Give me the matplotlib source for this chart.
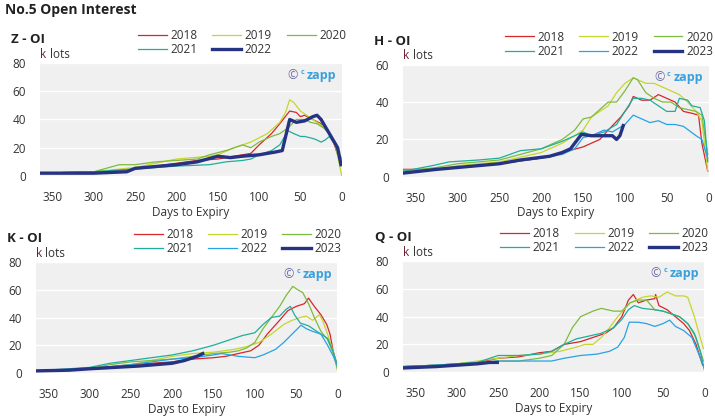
import matplotlib
matplotlib.use("Agg")
import matplotlib.pyplot as plt

plt.rcParams['font.family'] = ['Open Sans', 'DejaVu Sans']

# year colours
colors = {
    '2018': '#d7262b',
    '2019': '#c5d62c',
    '2020': '#7dbb3f',
    '2021': '#1fae9c',
    '2022': '#27a2e4',
    '2023': '#263382',
}
navy = '#263382'

# ---- Z - OI (2022 is the current contract) ----
z_days = {
    '2018': [365, 300, 250, 200, 175, 150, 130, 110, 100, 85, 75, 63, 55, 50, 45, 35, 25, 15, 10, 5, 0],
    '2019': [365, 300, 250, 200, 160, 150, 130, 110, 90, 75, 68, 63, 58, 50, 45, 35, 30, 22, 15, 7, 0],
    '2020': [365, 300, 269, 250, 225, 200, 175, 160, 140, 120, 110, 100, 85, 75, 65, 55, 45, 38, 30, 22, 15, 8, 0],
    '2021': [365, 300, 250, 200, 160, 140, 120, 110, 100, 85, 75, 65, 58, 50, 45, 38, 32, 25, 20, 15, 8, 0],
    '2022': [365, 300, 260, 250, 200, 175, 150, 135, 120, 100, 80, 72, 63, 55, 45, 35, 30, 25, 20, 13, 5, 1],
}
z_vals = {
    '2018': [2, 3, 5, 9, 11, 12, 14, 16, 22, 30, 37, 46, 45, 42, 43, 40, 37, 30, 24, 15, 8],
    '2019': [2, 3, 6, 12, 14, 15, 20, 24, 30, 38, 45, 54, 52, 46, 44, 40, 38, 35, 30, 20, 0],
    '2020': [2, 3, 8, 8, 10, 11, 12, 15, 18, 22, 20, 24, 28, 30, 34, 40, 40, 38, 37, 34, 30, 22, 12],
    '2021': [2, 3, 5, 7, 8, 10, 11, 12, 15, 18, 22, 32, 30, 28, 28, 27, 26, 24, 25.5, 28, 22, 8],
    '2022': [2, 2, 3, 5.4, 8, 10, 14, 13, 14, 15, 17, 18, 40, 38, 39, 42, 43, 40, 35, 28, 20, 8],
}

# ---- H - OI ----
h_days = {
    '2018': [365, 330, 300, 250, 200, 175, 150, 140, 130, 120, 105, 95, 90, 80, 70, 60, 50, 40, 30, 20, 12, 8, 1],
    '2019': [365, 325, 300, 250, 200, 175, 160, 150, 140, 120, 110, 100, 90, 85, 75, 65, 55, 45, 35, 25, 15, 8, 1],
    '2020': [365, 325, 300, 250, 200, 175, 160, 150, 140, 130, 120, 110, 100, 90, 85, 75, 65, 55, 45, 35, 25, 15, 8, 1],
    '2021': [365, 330, 310, 275, 250, 225, 200, 175, 160, 150, 140, 125, 110, 100, 90, 80, 70, 60, 50, 40, 35, 25, 20, 10, 5, 1],
    '2022': [365, 300, 250, 200, 175, 160, 150, 140, 125, 115, 100, 90, 80, 70, 60, 50, 40, 30, 15, 8, 1],
    '2023': [365, 325, 300, 250, 225, 190, 175, 165, 160, 152, 140, 125, 115, 110, 106, 102],
}
h_vals = {
    '2018': [4, 4, 5, 7, 10, 13, 16, 18, 20, 25, 32, 38, 43, 41, 41, 44, 42, 40, 35, 34, 33, 18, 3],
    '2019': [3.5, 4, 6, 8, 13, 18, 22, 25, 32, 38, 45, 50, 53, 52, 50, 50, 48, 46, 44, 40, 35, 30, 3],
    '2020': [3, 5, 7, 9, 15, 20, 25, 31, 32, 36, 40, 40, 46, 53, 52, 45, 42, 40, 40, 37, 36, 35, 33, 12],
    '2021': [3, 6, 8, 9, 10, 14, 15, 19, 22, 24, 22, 24, 28, 35, 42, 42, 41, 38, 35, 35, 42, 41, 38, 37, 30, 8],
    '2022': [2, 5, 7, 10, 12, 15, 21, 22, 25, 24, 28, 33, 31, 29, 30, 28, 28, 27, 22, 20, 10],
    '2023': [2, 4, 5, 7, 9, 11, 13, 15, 18, 22.7, 22, 22, 22, 20, 22, 27.4],
}

# ---- K - OI ----
k_days = {
    '2018': [365, 300, 250, 200, 175, 150, 135, 120, 105, 95, 85, 70, 60, 50, 40, 35, 28, 20, 13, 9, 5, 0],
    '2019': [365, 300, 250, 225, 200, 175, 150, 125, 110, 95, 80, 65, 55, 45, 38, 30, 22, 18, 12, 5, 0],
    '2020': [365, 325, 300, 275, 250, 200, 175, 150, 130, 120, 110, 100, 90, 80, 70, 62, 54, 48, 42, 35, 28, 20, 12, 5, 0],
    '2021': [365, 300, 275, 250, 225, 200, 175, 150, 130, 115, 100, 90, 80, 70, 62, 57, 52, 45, 35, 25, 20, 12, 5, 0],
    '2022': [365, 300, 250, 225, 200, 175, 150, 140, 120, 100, 90, 75, 65, 55, 44, 38, 30, 20, 12, 5, 0],
    '2023': [365, 325, 300, 270, 240, 220, 200, 185, 170, 163],
}
k_vals = {
    '2018': [1.5, 3, 6, 8, 10, 11, 12, 14, 16, 20, 28, 38, 45, 48, 50, 54, 48, 42, 35, 28, 15, 5],
    '2019': [1.5, 3, 6, 9, 12, 14, 15, 17, 19, 22, 28, 35, 38, 40, 41, 38, 42, 38, 28, 15, 5],
    '2020': [1.5, 2, 3, 6, 8, 10, 12, 14, 15, 16, 18, 22, 32, 40, 48, 56, 62.5, 60, 58, 50, 40, 30, 24, 14, 2],
    '2021': [1.5, 4, 7, 9, 11, 13, 16, 20, 24, 27, 29, 35, 40, 41, 46, 48, 42, 36, 34, 30, 28, 25, 15, 5],
    '2022': [1.5, 3, 6, 8, 10, 11, 13, 14, 12, 11, 13, 17, 22, 28, 34.5, 32, 30, 28, 20, 12, 5],
    '2023': [1.5, 2, 3, 4, 5, 6, 7, 9, 12, 14],
}

# ---- Q - OI ----
q_days = {
    '2018': [365, 325, 300, 275, 250, 225, 200, 185, 170, 150, 135, 120, 110, 100, 92, 86, 80, 70, 60, 59, 55, 45, 35, 25, 18, 10, 2],
    '2019': [365, 325, 300, 275, 250, 225, 200, 175, 155, 145, 135, 125, 115, 105, 90, 75, 65, 55, 45, 35, 25, 20, 12, 5, 1],
    '2020': [365, 325, 300, 275, 250, 225, 200, 185, 170, 160, 150, 135, 125, 110, 100, 90, 80, 70, 60, 50, 40, 30, 20, 10, 1],
    '2021': [365, 325, 300, 275, 250, 225, 200, 185, 170, 155, 140, 125, 110, 100, 92, 85, 75, 60, 50, 40, 30, 20, 12, 5, 0],
    '2022': [365, 325, 300, 275, 250, 225, 200, 185, 170, 150, 130, 115, 105, 97, 91, 80, 70, 60, 50, 42, 35, 25, 15, 8, 0],
    '2023': [365, 325, 300, 275, 260, 251],
}
q_vals = {
    '2018': [4, 5, 6, 7, 10, 11, 14, 15, 20, 22, 25, 28, 32, 40, 52, 56, 50, 52, 53, 56, 48, 45, 40, 35, 30, 20, 5],
    '2019': [4, 5, 6, 8, 10, 12, 13, 15, 18, 20, 20, 25, 32, 40, 50, 54, 55, 54, 57.8, 55, 55, 54, 40, 25, 17],
    '2020': [4, 5, 6, 7, 8, 8, 10, 12, 20, 32, 40, 44, 46, 44, 44, 50, 52, 52, 45, 44, 42, 40, 35, 25, 8],
    '2021': [4, 5, 6, 7, 12, 12, 13, 15, 20, 24, 26, 28, 32, 38, 45, 48, 46, 45, 44, 42, 40, 35, 28, 15, 2],
    '2022': [4, 5, 5, 6, 8, 8, 8, 8, 10, 12, 13, 15, 18, 25, 36, 36, 35, 33, 35, 37.5, 33, 30, 25, 15, 3],
    '2023': [3, 4, 5, 6, 7, 7],
}

panels = [
    ('Z - OI', z_days, z_vals, [0, 20, 40, 60, 80], 80, [0.056, 0.581, 0.422, 0.269]),
    ('H - OI', h_days, h_vals, [0, 20, 40, 60], 60, [0.564, 0.579, 0.427, 0.267]),
    ('K - OI', k_days, k_vals, [0, 20, 40, 60, 80], 80, [0.050, 0.112, 0.422, 0.264]),
    ('Q - OI', q_days, q_vals, [0, 20, 40, 60, 80], 80, [0.564, 0.114, 0.421, 0.264]),
]

fig = plt.figure(figsize=(7.15, 4.2), dpi=100)
fig.text(0.007, 0.992, 'No.5 Open Interest', fontsize=10, fontweight='bold',
         color='#222222', va='top')

for title, days, vals, yt, ymax, pos in panels:
    ax = fig.add_axes(pos)
    ax.set_facecolor('#f0f0f0')
    years = list(days.keys())
    current = years[-1]
    for yr in years:
        if yr == current:
            ax.plot(days[yr], vals[yr], color=navy, lw=2.4, label=yr, zorder=5)
        else:
            ax.plot(days[yr], vals[yr], color=colors[yr], lw=0.9, label=yr)
    ax.set_xlim(365, 0)
    ax.set_ylim(0, ymax)
    ax.set_yticks(yt)
    ax.set_xticks([350, 300, 250, 200, 150, 100, 50, 0])
    ax.grid(axis='y', color='white', lw=1.0)
    ax.set_axisbelow(True)
    for s in ax.spines.values():
        s.set_visible(False)
    ax.tick_params(length=0, labelsize=8.5, colors='#333333')
    ax.tick_params(axis='x', pad=11)
    ax.tick_params(axis='y', pad=10)
    ax.set_xlabel('Days to Expiry', fontsize=8.5, color='#333333', labelpad=1)
    ax.text(-0.095, 1.21, title, transform=ax.transAxes, fontsize=9.5,
            fontweight='bold', color='#222222', va='center')
    ax.text(0.0, 1.02, 'k', transform=ax.transAxes, fontsize=8.5,
            color='#6b1e2e', va='bottom')
    ax.text(0.032, 1.02, 'lots', transform=ax.transAxes, fontsize=8.5,
            color='#333333', va='bottom')
    # watermark
    ax.text(0.982, 0.885, 'zapp', transform=ax.transAxes, fontsize=9,
            fontweight='bold', color='#3aa0dc', ha='right', va='center')
    ax.text(0.876, 0.915, 'c', transform=ax.transAxes, fontsize=5,
            fontweight='bold', color='#3aa0dc', ha='right', va='center')
    ax.text(0.855, 0.885, '\u00a9', transform=ax.transAxes, fontsize=9,
            color='#6a6aa8', ha='right', va='center')
    # legend filled row by row
    handles, labels = ax.get_legend_handles_labels()
    order = [0, 3, 1, 4, 2, 5] if len(handles) == 6 else [0, 3, 1, 4, 2]
    ax.legend([handles[i] for i in order], [labels[i] for i in order],
              loc='lower right', bbox_to_anchor=(1.03, 1.02), ncol=3,
              frameon=False, fontsize=8.5, handlelength=2.45, handletextpad=0.3,
              columnspacing=1.25, labelspacing=0.1, borderaxespad=0,
              labelcolor='#333333')

fig.savefig('out.png', dpi=100)
